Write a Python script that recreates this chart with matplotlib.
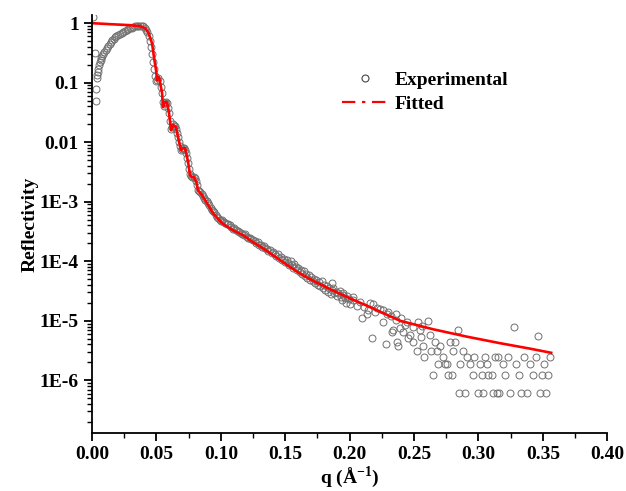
import matplotlib
matplotlib.use("Agg")
import matplotlib.pyplot as plt
from matplotlib.lines import Line2D
from matplotlib.ticker import FixedLocator, FixedFormatter, LogLocator, MultipleLocator, NullFormatter


# Experimental reflectivity points
q_exp = [
    0.0010, 0.0023, 0.0030, 0.0034, 0.0037, 0.0041, 0.0045, 0.0049, 0.0054, 0.0060,
    0.0066, 0.0073, 0.0080, 0.0088, 0.0096, 0.0106, 0.0116, 0.0126, 0.0136, 0.0146,
    0.0158, 0.0168, 0.0179, 0.0190, 0.0204, 0.0217, 0.0231, 0.0244, 0.0256, 0.0270,
    0.0282, 0.0295, 0.0308, 0.0320, 0.0334, 0.0347, 0.0360, 0.0373, 0.0386, 0.0398,
    0.0410, 0.0420, 0.0430, 0.0440, 0.0450, 0.0460, 0.0468, 0.0476, 0.0484, 0.0492,
    0.0500, 0.0508, 0.0516, 0.0524, 0.0532, 0.0540, 0.0548, 0.0556, 0.0564, 0.0572,
    0.0580, 0.0588, 0.0596, 0.0604, 0.0612, 0.0620, 0.0628, 0.0636, 0.0644, 0.0652,
    0.0660, 0.0668, 0.0676, 0.0684, 0.0692, 0.0700, 0.0708, 0.0716, 0.0724, 0.0732,
    0.0740, 0.0748, 0.0756, 0.0764, 0.0772, 0.0780, 0.0788, 0.0796, 0.0804, 0.0812,
    0.0820, 0.0830, 0.0840, 0.0850, 0.0860, 0.0870, 0.0880, 0.0890, 0.0900, 0.0910,
    0.0920, 0.0930, 0.0940, 0.0950, 0.0960, 0.0970, 0.0980, 0.0990, 0.1000,
    0.1010, 0.1022, 0.1034, 0.1046, 0.1058, 0.1070, 0.1082, 0.1094, 0.1106, 0.1118,
    0.1130, 0.1142, 0.1154, 0.1166, 0.1178, 0.1190, 0.1202, 0.1214, 0.1226, 0.1238,
    0.1250, 0.1262, 0.1274, 0.1286, 0.1298, 0.1310, 0.1322, 0.1334, 0.1346, 0.1358,
    0.1370, 0.1382, 0.1394, 0.1406, 0.1418, 0.1430, 0.1442, 0.1454, 0.1466, 0.1478,
    0.1490, 0.1502,
    0.1512, 0.1522, 0.1532, 0.1542, 0.1552, 0.1562, 0.1572, 0.1582, 0.1592, 0.1602,
    0.1612, 0.1622, 0.1632, 0.1642, 0.1652, 0.1662, 0.1672, 0.1682, 0.1692, 0.1702,
    0.1712, 0.1722, 0.1732, 0.1742, 0.1752, 0.1762, 0.1772, 0.1782, 0.1792, 0.1802,
    0.1812, 0.1822, 0.1832, 0.1842, 0.1852, 0.1862, 0.1872, 0.1882, 0.1892, 0.1902,
    0.1912, 0.1922, 0.1932, 0.1942, 0.1952, 0.1962, 0.1972, 0.1982, 0.1992, 0.2002,
    0.1864, 0.1950, 0.2027, 0.2097, 0.2136, 0.2159, 0.2237, 0.2299, 0.2330, 0.2369,
    0.2377, 0.2392, 0.2447, 0.2470, 0.2524, 0.2532, 0.2548, 0.2579, 0.2610, 0.2625,
    0.2649, 0.2664, 0.2680, 0.2684, 0.2703, 0.2726, 0.2757, 0.2765, 0.2796, 0.2804,
    0.2819, 0.2843, 0.2846, 0.2858, 0.2882, 0.2897, 0.2913, 0.2936, 0.2959, 0.2963,
    0.2998, 0.3014, 0.3029, 0.3037, 0.3052, 0.3068, 0.3076, 0.3107, 0.3114, 0.3130,
    0.3146, 0.3153, 0.3161, 0.3192, 0.3208, 0.3231, 0.3247, 0.3278, 0.3293, 0.3317,
    0.3332, 0.3355, 0.3379, 0.3402, 0.3425, 0.3449, 0.3464, 0.3480, 0.3495, 0.3511,
    0.3526, 0.3542, 0.3557,
    0.2214, 0.2260, 0.2291, 0.2338, 0.2361, 0.2416, 0.2450, 0.2493, 0.2552, 0.2571,
    0.2629, 0.2742, 0.2781, 0.2175, 0.2284,
    0.2030, 0.2060, 0.2080, 0.2110, 0.2140, 0.2180, 0.2200, 0.2260, 0.2320, 0.2360,
    0.2400, 0.2430, 0.2490, 0.2560,
]
r_exp = [
    1.25, 0.32, 0.049, 0.078, 0.120, 0.134, 0.152, 0.173, 0.197, 0.222,
    0.245, 0.265, 0.285, 0.305, 0.322, 0.36, 0.39, 0.42, 0.455, 0.48,
    0.515, 0.545, 0.575, 0.60, 0.628, 0.655, 0.687, 0.715, 0.742, 0.768,
    0.793, 0.815, 0.84, 0.86, 0.88, 0.895, 0.905, 0.91, 0.905, 0.88,
    0.84, 0.78, 0.70, 0.60, 0.50, 0.40, 0.30, 0.22, 0.17, 0.13,
    0.105, 0.112, 0.118, 0.108, 0.085, 0.068, 0.048, 0.041, 0.046, 0.048,
    0.045, 0.038, 0.031, 0.023, 0.017, 0.018, 0.020, 0.019, 0.0185, 0.017,
    0.0145, 0.0122, 0.0102, 0.0085, 0.0074, 0.0077, 0.0080, 0.0079, 0.0075, 0.0066,
    0.0055, 0.0045, 0.0035, 0.0029, 0.0027, 0.0026, 0.0026, 0.0025, 0.0022, 0.0019,
    0.0016, 0.00150, 0.00143, 0.00134, 0.00125, 0.00117, 0.00109, 0.00101, 0.00095, 0.00087,
    0.00079, 0.00074, 0.00070, 0.00066, 0.00060, 0.00056, 0.00053, 0.00050, 0.00048,
    4.9e-4, 4.6e-4, 4.4e-4, 4.3e-4, 4.2e-4, 4.0e-4, 3.7e-4, 3.5e-4, 3.6e-4, 3.4e-4,
    3.2e-4, 3.1e-4, 3.0e-4, 2.9e-4, 2.8e-4, 2.9e-4, 2.6e-4, 2.5e-4, 2.45e-4, 2.35e-4,
    2.3e-4, 2.2e-4, 2.0e-4, 2.1e-4, 1.85e-4, 1.9e-4, 1.75e-4, 1.8e-4, 1.65e-4, 1.6e-4,
    1.5e-4, 1.55e-4, 1.4e-4, 1.45e-4, 1.3e-4, 1.25e-4, 1.3e-4, 1.15e-4, 1.2e-4, 1.05e-4,
    1.1e-4, 9.8e-5,
    1.05e-4, 9.2e-5, 8.8e-5, 1.0e-4, 8.5e-5, 7.8e-5, 9.0e-5, 8.0e-5, 7.2e-5, 7.6e-5,
    6.6e-5, 7.0e-5, 6.2e-5, 6.8e-5, 5.6e-5, 6.0e-5, 5.2e-5, 5.8e-5, 4.9e-5, 5.4e-5,
    4.6e-5, 5.0e-5, 4.3e-5, 4.8e-5, 4.0e-5, 4.4e-5, 3.9e-5, 4.6e-5, 3.5e-5, 4.0e-5,
    3.3e-5, 3.8e-5, 3.0e-5, 3.5e-5, 2.8e-5, 3.3e-5, 3.6e-5, 2.9e-5, 3.1e-5, 2.6e-5,
    2.9e-5, 3.2e-5, 2.5e-5, 2.2e-5, 2.7e-5, 2.4e-5, 2.0e-5, 2.6e-5, 2.3e-5, 1.9e-5,
    4.3e-5, 2.9e-5, 2.5e-5, 1.1e-5, 1.3e-5, 2.0e-5, 1.6e-5, 1.4e-5, 6.4e-6, 4.34e-6,
    3.72e-6, 7.6e-6, 9.4e-6, 5.8e-6, 3.1e-6, 9.4e-6, 7.0e-6, 2.48e-6, 1.0e-5, 5.8e-6,
    1.24e-6, 4.34e-6, 3.1e-6, 1.86e-6, 3.72e-6, 2.48e-6, 1.86e-6, 1.24e-6, 1.24e-6, 3.1e-6,
    4.34e-6, 7.0e-6, 6.2e-7, 1.86e-6, 3.1e-6, 6.2e-7, 2.48e-6, 1.86e-6, 1.24e-6, 2.48e-6,
    6.2e-7, 1.86e-6, 1.24e-6, 6.2e-7, 2.48e-6, 1.86e-6, 1.24e-6, 1.24e-6, 6.2e-7, 2.48e-6,
    6.2e-7, 2.48e-6, 6.2e-7, 1.86e-6, 1.24e-6, 2.48e-6, 6.2e-7, 7.8e-6, 1.86e-6, 1.24e-6,
    6.2e-7, 2.48e-6, 6.2e-7, 1.86e-6, 1.24e-6, 2.48e-6, 5.6e-6, 6.2e-7, 1.24e-6, 1.86e-6,
    6.2e-7, 1.24e-6, 2.48e-6,
    1.66e-5, 9.4e-6, 1.3e-5, 7.0e-6, 1.3e-5, 6.4e-6, 5.1e-6, 4.34e-6, 5.3e-6, 3.72e-6,
    3.1e-6, 1.86e-6, 4.34e-6, 5.1e-6, 4.0e-6,
    2.2e-5, 1.8e-5, 2.1e-5, 1.7e-5, 1.5e-5, 1.9e-5, 1.4e-5, 1.5e-5, 1.2e-5, 1.05e-5,
    1.1e-5, 8.5e-6, 8.0e-6, 8.2e-6,
]

# Fitted curve
q_fit = [
    0.0, 0.014, 0.0295, 0.0373, 0.0412, 0.0435, 0.045, 0.0466, 0.0481, 0.0497,
    0.0505, 0.0513, 0.052, 0.0528, 0.0544, 0.0551, 0.0559, 0.0567, 0.0582, 0.0598,
    0.0614, 0.0629, 0.0645, 0.0652, 0.0668, 0.0691, 0.0707, 0.0722, 0.0730, 0.0746,
    0.0761, 0.0777, 0.0792, 0.0808, 0.0823, 0.0854, 0.0893, 0.094, 0.101, 0.1056,
    0.1095, 0.1173, 0.125, 0.1328, 0.1406, 0.1484, 0.1561, 0.1616, 0.1717, 0.1849,
    0.1981, 0.212, 0.2392, 0.2649, 0.2913, 0.3169, 0.3402, 0.3565,
]
r_fit = [
    1.0, 0.962, 0.926, 0.89, 0.824, 0.706, 0.582, 0.461, 0.268, 0.162,
    0.110, 0.119, 0.124, 0.102, 0.0667, 0.0388, 0.0435, 0.047, 0.047, 0.0307,
    0.0159, 0.0193, 0.0186, 0.0179, 0.0121, 0.00734, 0.00793, 0.00793, 0.00679, 0.00461,
    0.00279, 0.00258, 0.00258, 0.00221, 0.00156, 0.00129, 9.44e-4, 6.41e-4, 4.35e-4, 3.73e-4,
    3.32e-4, 2.74e-4, 2.09e-4, 1.65e-4, 1.26e-4, 9.6e-5, 7.4e-5, 6.2e-5, 4.7e-5, 3.4e-5,
    2.5e-5, 1.85e-5, 1.0e-5, 7.2e-6, 5.4e-6, 4.2e-6, 3.4e-6, 2.9e-6,
]

x_ticks = [0.0, 0.05, 0.10, 0.15, 0.20, 0.25, 0.30, 0.35, 0.40]
y_ticks = [1, 0.1, 0.01, 1e-3, 1e-4, 1e-5, 1e-6]
y_tick_labels = ["1", "0.1", "0.01", "1E-3", "1E-4", "1E-5", "1E-6"]


plt.rcParams['font.family'] = ['Liberation Serif', 'DejaVu Serif']
plt.rcParams['font.weight'] = 'bold'
plt.rcParams['mathtext.fontset'] = 'custom'
plt.rcParams['mathtext.rm'] = 'Liberation Serif:bold'

fig = plt.figure(figsize=(6.26, 4.91), dpi=100)
ax = fig.add_axes([0.147, 0.118, 0.823, 0.851])

ax.plot(q_exp, r_exp, linestyle='none', marker='o', markersize=5,
        markerfacecolor='none', markeredgecolor='#707070', markeredgewidth=0.7)
ax.plot(q_fit, r_fit, color='red', linewidth=1.9)

ax.set_yscale('log')
ax.set_xlim(0, 0.4)
ax.set_ylim(1.3e-7, 1.36)

# axis styling (Origin-like: only left and bottom, ticks outward)
for side in ['top', 'right']:
    ax.spines[side].set_visible(False)
for side in ['left', 'bottom']:
    ax.spines[side].set_linewidth(1.3)

ax.xaxis.set_major_locator(FixedLocator(x_ticks))
ax.xaxis.set_minor_locator(MultipleLocator(0.025))
ax.xaxis.set_major_formatter(FixedFormatter(["%.2f" % t for t in x_ticks]))
ax.yaxis.set_major_locator(FixedLocator(y_ticks))
ax.yaxis.set_major_formatter(FixedFormatter(y_tick_labels))
ax.yaxis.set_minor_locator(LogLocator(base=10, subs=range(2, 10), numticks=20))
ax.yaxis.set_minor_formatter(NullFormatter())

ax.tick_params(which='major', direction='out', length=6, width=1.3, labelsize=14)
ax.tick_params(which='minor', direction='out', length=3.5, width=1.0)

ax.set_xlabel("q (Å$^{-1}$)", fontsize=14, fontweight='bold', labelpad=1)
ax.set_ylabel("Reflectivity", fontsize=14, fontweight='bold', labelpad=1)

# legend with a dash-dot line for the fit, as in the original
handles = [
    Line2D([], [], linestyle='none', marker='o', markersize=5, markerfacecolor='none',
           markeredgecolor='#444444', markeredgewidth=0.8),
    Line2D([], [], color='red', linestyle=(0, (6, 3, 1.5, 3)), linewidth=1.6),
]
ax.legend(handles, ["Experimental", "Fitted"], loc='upper left', bbox_to_anchor=(0.47, 0.885),
          frameon=False, fontsize=14, handlelength=2.4, handletextpad=0.3,
          labelspacing=0.35, borderaxespad=0)

fig.savefig("out.png", dpi=100)
